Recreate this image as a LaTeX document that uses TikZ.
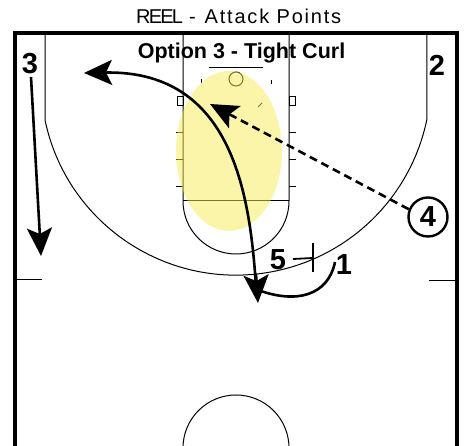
\documentclass[tikz,border=0pt]{standalone}
\usepackage{fontspec}
\setmainfont{Liberation Sans}
\usetikzlibrary{
  arrows.meta,
  positioning,
  calc
}
\definecolor{rlYellow}{HTML}{F7EC55}
\tikzset{
  courtline/.style={draw=black, line width=1pt},
  frameline/.style={draw=black, line width=4pt},
  hashmark/.style={draw=black, line width=0.8pt},
  player/.style={font=\fontsize{29}{29}\selectfont\bfseries, inner sep=0pt},
  ringed/.style={player, draw, circle, line width=2.4pt, minimum size=39pt},
  cut/.style={-{Stealth[length=28pt, width=25pt, inset=6pt]}, line width=2.6pt},
  pass/.style={cut, dashed, dash pattern=on 8pt off 5pt},
  screenbar/.style={draw=black, line width=1.8pt},
  titletext/.style={font=\fontsize{20}{20}\selectfont, inner sep=0pt},
  optiontext/.style={font=\fontsize{21.5}{22}\selectfont\bfseries, inner sep=0pt}
}
\begin{document}
\begin{tikzpicture}[x=1pt, y=1pt]
  \useasboundingbox (0,0) rectangle (466,446);
  % court
  \draw[courtline] (45,413) -- (45,326) arc[start angle=191.8, end angle=348.2, radius=195pt] -- (427,413);
  \draw[courtline] (183,413) -- (183,245) arc[start angle=180, end angle=360, radius=53pt] -- (289,413);
  \draw[courtline] (183,245) -- (289,245);
  \draw[courtline] (209,378) -- (263,378);
  \node[courtline, circle, minimum size=14pt, inner sep=0pt] (hoop) at (236,367) {};
  \draw[courtline] (17,166) -- (42,166);
  \draw[courtline] (429,165) -- (455,165);
  \draw[courtline] (183,-2) arc[start angle=180, end angle=0, radius=53pt];
  % lane marks
  \foreach \y in {260,287,314} {
    \draw[hashmark] (176,\y) -- (183,\y);
    \draw[hashmark] (289,\y) -- (296,\y);
  }
  \draw[hashmark] (177,341) rectangle (183,350);
  \draw[hashmark] (289,341) rectangle (295,350);
  \draw[hashmark] (201,363) -- (201,367);
  \draw[hashmark] (271,362) -- (271,366);
  \draw[hashmark] (258,339) -- (262,343);
  % attack area
  \fill[rlYellow, opacity=0.5] (229,295) ellipse[x radius=53pt, y radius=80pt];
  \draw[frameline] (15,0) -- (15,413) -- (457,413) -- (457,0);
  % labels
  \node[titletext, anchor=west] (title) at (136,430) {\addfontfeature{LetterSpace=-9}REEL\hspace{6pt}-\hspace{9pt}\addfontfeature{LetterSpace=9}Attack Points};
  \node[optiontext] (option) at (241.5,393) {Option 3 - Tight Curl};
  \node[player] (three) at (30,382) {3};
  \node[player] (two) at (437,381) {2};
  \node[player] (five) at (278,186) {5};
  \node[player] (one) at (344,181) {1};
  \node[ringed] (four) at (428,229) {4};
  % movement
  \coordinate (threeEnd) at (41,190);
  \coordinate (curlEnd) at (84,373);
  \coordinate (curlTip) at (258,143);
  \coordinate (curlStart) at (256,160);
  \coordinate (passEnd) at (210,342);
  \draw[cut] (31,369) -- (threeEnd);
  \draw[pass] (four.158) -- (passEnd);
  \draw[cut] (curlStart) .. controls (250,246) and (235,376) .. (curlEnd);
  \draw[cut] (256,172) -- (curlTip);
  \draw[line width=2.6pt] (335,184) .. controls (328,150) and (296,142) .. (258,156);
  % screen
  \coordinate (screenTop) at (313,203);
  \coordinate (screenBot) at (313,174);
  \draw[screenbar] (293,187) -- (313,188);
  \draw[screenbar] (screenTop) -- (screenBot);
\end{tikzpicture}
\end{document}
